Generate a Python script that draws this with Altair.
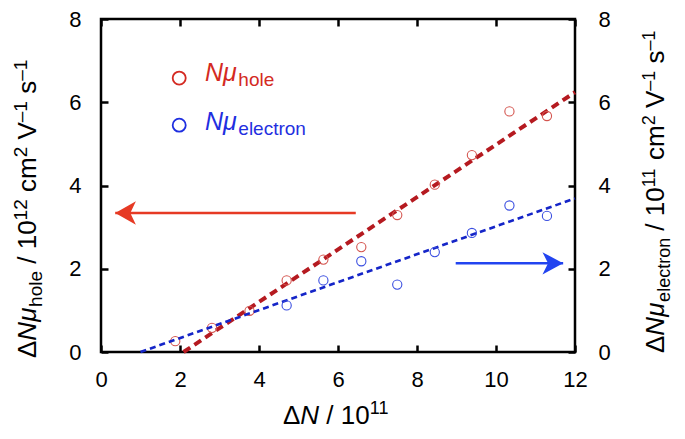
import altair as alt
import pandas as pd

FONT = "Liberation Sans"

# ---------------- data ----------------
hole_x = [1.88, 2.81, 3.76, 4.70, 5.63, 6.59, 7.50, 8.45, 9.39, 10.34, 11.29]
hole_y = [0.26, 0.58, 0.99, 1.72, 2.22, 2.52, 3.29, 4.02, 4.73, 5.78, 5.67]
elec_x = [4.70, 5.63, 6.59, 7.50, 8.45, 9.39, 10.34, 11.29]
elec_y = [1.12, 1.72, 2.18, 1.62, 2.40, 2.86, 3.52, 3.27]
hole_fit_x = [2.09, 12.0]
hole_fit_y = [0.0, 6.24]
elec_fit_x = [1.0, 12.0]
elec_fit_y = [0.0, 3.69]
x_ticks = [0, 2, 4, 6, 8, 10, 12]
y_ticks = [0, 2, 4, 6, 8]
# arrows: shaft start, head tip, level
red_arrow = [6.45, 0.36, 3.34]
blue_arrow = [8.98, 11.70, 2.13]
# legend: marker x, label x, marker y, label baseline y
legend_hole = [1.98, 2.63, 6.58, 6.50]
legend_elec = [1.98, 2.63, 5.45, 5.33]
legend_main = "Nμ"
legend_sub = ["hole", "electron"]
left_title = [("Δ", "n"), ("Nμ", "i"), ("hole", "sub"), (" / 10", "n"), ("12", "sup"),
              (" cm", "n"), ("2", "sup"), (" V", "n"), ("–1", "sup"), (" s", "n"), ("–1", "sup")]
right_title = [("Δ", "n"), ("Nμ", "i"), ("electron", "sub"), (" / 10", "n"), ("11", "sup"),
               (" cm", "n"), ("2", "sup"), (" V", "n"), ("–1", "sup"), (" s", "n"), ("–1", "sup")]
bottom_title = [("Δ", "n"), ("N", "i"), (" / 10", "n"), ("11", "sup")]

RED_LINE = "#b51a20"
RED_PT = "#d4554f"
RED_TEXT = "#d42a22"
RED_ARROW = "#e63a24"
BLUE_LINE = "#1525c8"
BLUE_PT = "#3a4ee0"
BLUE_TEXT = "#1f2fe0"
BLUE_ARROW = "#2244f0"

W = {" ": 0.278, "/": 0.278, "Δ": 0.668, "N": 0.722, "μ": 0.576, "c": 0.5, "m": 0.833,
     "V": 0.667, "s": 0.5, "h": 0.556, "o": 0.556, "l": 0.222, "e": 0.556, "t": 0.278,
     "r": 0.333, "n": 0.556, "–": 0.556}


def tw(s, fs):
    return sum(W.get(c, 0.556) for c in s) * fs


def rich_text(pieces, x_px, y_px, angle, color, main_fs, small_fs, sub_dy, sup_dy):
    layers = []
    cur = 0.0
    for text, kind in pieces:
        fs = main_fs if kind in ("n", "i") else small_fs
        lead = len(text) - len(text.lstrip(" "))
        core = text.strip(" ")
        cur += lead * W[" "] * fs
        dy = sub_dy if kind == "sub" else (sup_dy if kind == "sup" else 0)
        props = dict(align="left", baseline="alphabetic", dx=cur, dy=dy, fontSize=fs,
                     font=FONT, fontStyle="italic" if kind == "i" else "normal", color=color)
        if angle:
            props["angle"] = angle
        layers.append(
            alt.Chart(pd.DataFrame({"t": [core]}))
            .mark_text(**props)
            .encode(text="t:N", x=alt.value(x_px), y=alt.value(y_px))
        )
        cur += tw(core, fs)
    return layers


XS = alt.Scale(domain=[0, 12], nice=False, zero=False)
YS = alt.Scale(domain=[0, 8], nice=False, zero=False)
ax = dict(domain=False, grid=False, tickSize=7, offset=-7, tickWidth=2.5, tickColor="black",
          labelFont=FONT, labelFontSize=22, labelColor="black", title=None,
          labelFlush=False, labelOverlap=False)
x_bottom = alt.Axis(orient="bottom", values=x_ticks, labelPadding=17, **ax)
y_left = alt.Axis(orient="left", values=y_ticks, labelPadding=20, **ax)
x_top = alt.Axis(orient="top", values=x_ticks, labels=False, **ax)
y_right = alt.Axis(orient="right", values=y_ticks, labelPadding=23, **ax)


def group(px, py, fitx, fity, arrow, leg, sub, xa, ya, c_line, c_pt, c_text, c_arrow, lw, dash):
    X = alt.X("x:Q", scale=XS, axis=xa)
    Y = alt.Y("y:Q", scale=YS, axis=ya)
    pts = alt.Chart(pd.DataFrame({"x": px, "y": py})).mark_point(
        shape="circle", filled=False, size=85, strokeWidth=1.1, color=c_pt, opacity=1
    ).encode(x=X, y=Y)
    fit = alt.Chart(pd.DataFrame({"x": fitx, "y": fity})).mark_line(
        strokeDash=dash, strokeWidth=lw, color=c_line
    ).encode(x=X, y=Y)
    tip = arrow[1]
    direction = -1 if tip < arrow[0] else 1
    shaft = alt.Chart(pd.DataFrame({"x": [arrow[0]], "x2": [tip], "y": [arrow[2]]})).mark_rule(
        strokeWidth=2.5, color=c_arrow
    ).encode(x=X, x2="x2:Q", y=Y)
    if direction < 0:
        path = "M0,0L1.85,-1.05L1.35,0L1.85,1.05Z"
    else:
        path = "M0,0L-1.85,-1.0L-1.35,0L-1.85,1.0Z"
    head = alt.Chart(pd.DataFrame({"x": [tip], "y": [arrow[2]]})).mark_point(
        shape=path, filled=True, size=500, color=c_arrow, opacity=1, strokeWidth=0
    ).encode(x=X, y=Y)
    lmark = alt.Chart(pd.DataFrame({"x": [leg[0]], "y": [leg[2]]})).mark_point(
        shape="circle", filled=False, size=170, strokeWidth=1.8, color=c_text, opacity=1
    ).encode(x=X, y=Y)
    ltxt = alt.Chart(pd.DataFrame({"x": [leg[1]], "y": [leg[3]], "t": [legend_main]})).mark_text(
        align="left", baseline="alphabetic", fontSize=25, font=FONT, fontStyle="italic", color=c_text
    ).encode(x=X, y=Y, text="t:N")
    lsub = alt.Chart(pd.DataFrame({"x": [leg[1]], "y": [leg[3]], "t": [sub]})).mark_text(
        align="left", baseline="alphabetic", fontSize=19, font=FONT, color=c_text,
        dx=tw(legend_main, 25) + 1, dy=5
    ).encode(x=X, y=Y, text="t:N")
    return [fit, pts, shaft, head, lmark, ltxt, lsub]


hole_layers = group(hole_x, hole_y, hole_fit_x, hole_fit_y, red_arrow, legend_hole, legend_sub[0],
                    x_bottom, y_left, RED_LINE, RED_PT, RED_TEXT, RED_ARROW, 4, [8, 5])
elec_layers = group(elec_x, elec_y, elec_fit_x, elec_fit_y, blue_arrow, legend_elec, legend_sub[1],
                    x_top, y_right, BLUE_LINE, BLUE_PT, BLUE_TEXT, BLUE_ARROW, 2.6, [6, 4])

hole_layers += rich_text(left_title, -65, 339, 270, "black", 26, 19, 6, -9)
hole_layers += rich_text(bottom_title, 182, 405, 0, "black", 26, 18, 6, -10)
elec_layers += rich_text(right_title, 563, 334, 270, "black", 26, 18, 6, -9)

chart = (
    alt.layer(alt.layer(*hole_layers), alt.layer(*elec_layers))
    .resolve_scale(x="independent", y="independent")
    .properties(
        width=474, height=333,
        autosize=alt.AutoSizeParams(type="none"),
        padding={"left": 93, "top": 11, "right": 102, "bottom": 79},
        background="white",
    )
    .configure_view(stroke="black", strokeWidth=2.5)
)

chart.save("out.html", embed_options={"renderer": "svg", "actions": False})
